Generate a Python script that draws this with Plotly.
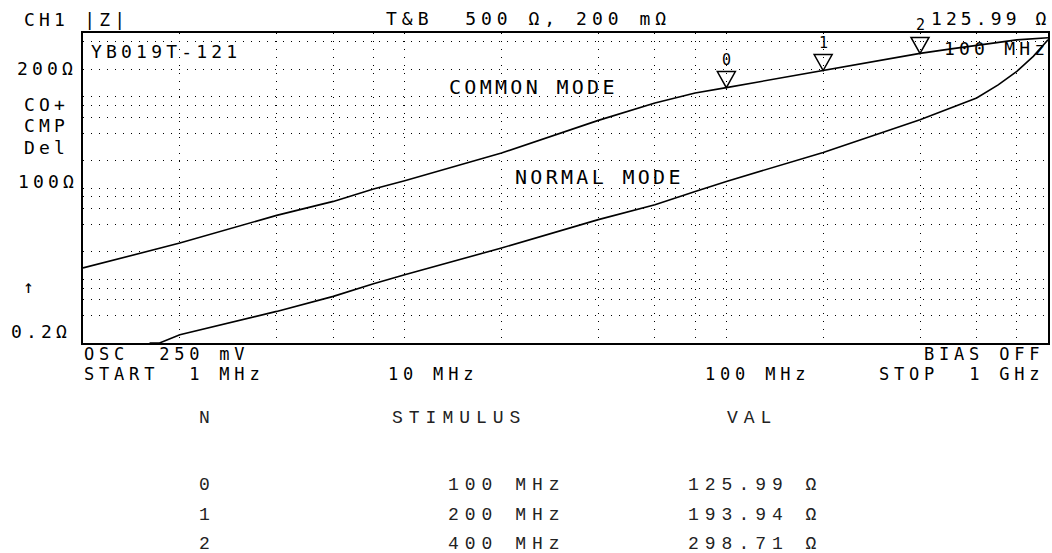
import plotly.graph_objects as go
import math

# ---------------- data ----------------
freq_common = [1, 2, 4, 6, 8, 10, 20, 40, 60, 80, 100, 200, 400, 500, 600, 700, 800, 1000]   # MHz
z_common = [1.33, 2.49, 5.01, 7.13, 9.75, 12.0, 24.2, 55.1, 85.5, 110, 125.99, 193.94, 298.71,
            335, 365, 395, 420, 444]                                                          # ohm

freq_normal = [1.61, 1.73, 2, 4, 6, 8, 10, 20, 40, 60, 80, 100, 200, 400, 600, 700, 800, 900, 1000]
z_normal = [0.2, 0.2, 0.247, 0.444, 0.649, 0.893, 1.12, 2.20, 4.50, 6.56, 9.18, 11.8, 24.5,
            56.1, 97, 135, 190, 277, 422]

marker_ids = ["0", "1", "2"]
marker_freq = [100, 200, 400]
marker_val = [125.99, 193.94, 298.71]
marker_stim_labels = ["100 MHz", "200 MHz", "400 MHz"]
marker_val_labels = ["125.99 Ω", "193.94 Ω", "298.71 Ω"]

x_grid = [2, 4, 6, 8, 10, 20, 40, 60, 80, 100, 200, 400, 600, 800]
y_grid = [0.4, 0.6, 0.8, 1, 2, 4, 6, 8, 10, 20, 40, 60, 80, 100, 200, 400]

x_min, x_max = 1, 1000      # MHz
y_min, y_max = 0.2, 500     # ohm

# ---------------- layout helpers ----------------
W, H = 1052, 553
L, R, T, B = 83, 1050, 33, 343


def px(x):
    return (x - L) / (R - L)


def py(y):
    return (B - y) / (B - T)


MONO = "DejaVu Sans Mono"
TABLE = "Liberation Mono"


def spaced(text, sp):
    return f'<span style="letter-spacing:{sp}px">{text}</span>'


annotations = []
shapes = []


def label(text, x, cy, size=18, sp=4.2, family=MONO, color="black", xanchor="left"):
    annotations.append(dict(
        text=spaced(text, sp), x=px(x), y=py(cy), xref="paper", yref="paper",
        xanchor=xanchor, yanchor="middle", showarrow=False, borderpad=0,
        font=dict(family=family, size=size, color=color)))


# header line
label("CH1 |Z|", 23, 20)
label("T&amp;B  500 Ω, 200 mΩ", 386, 18, sp=5)
label(marker_val_labels[0], 932, 18.5, sp=4.1)

# left side labels
label("200Ω", 16, 69)
label("CO+", 23, 104.5)
label("CMP", 23, 125.5)
label("Del", 23, 147.5)
label("100Ω", 17, 181)
label("↑", 28, 286, xanchor="center", sp=0)
label("0.2Ω", 10, 331)

# inside plot
label("YB019T-121", 90, 51.5)
label("COMMON MODE", 449, 86.5, size=20, sp=3.3)
label("NORMAL MODE", 515, 176.5, size=20, sp=3.3)
label(marker_stim_labels[0], 945, 48.5)

# under plot
label("OSC  250 mV", 83, 354, size=17, sp=4.8)
label("BIAS OFF", 925, 354, size=17, sp=4.8)
label("START  1 MHz", 83, 374, size=17, sp=4.8)
label("10 MHz", 388, 374, size=17, sp=4.8)
label("100 MHz", 705, 374, size=17, sp=4.8)
label("STOP  1 GHz", 880, 374, size=17, sp=4.8)

# marker table
label("N", 198, 418, size=18, sp=6, family=TABLE, color="#222")
label("STIMULUS", 392, 418, size=18, sp=6, family=TABLE, color="#222")
label("VAL", 727, 418, size=18, sp=6, family=TABLE, color="#222")
row_y = [485, 515, 544]
for i in range(len(marker_ids)):
    label(marker_ids[i], 198, row_y[i], size=18, sp=6, family=TABLE, color="#222")
    label(marker_stim_labels[i], 568, row_y[i], size=18, sp=6, family=TABLE, color="#222",
          xanchor="right")
    label(marker_val_labels[i], 688, row_y[i], size=18, sp=6, family=TABLE, color="#222")

# marker triangles (tip on the data point) and their numbers
for i in range(len(marker_ids)):
    shapes.append(dict(
        type="path", xref="x", yref="y", xsizemode="pixel", ysizemode="pixel",
        xanchor=marker_freq[i], yanchor=marker_val[i], path="M -9,16 L 9,16 L 0,0 Z",
        line=dict(color="black", width=1.5), fillcolor="rgba(0,0,0,0)", layer="above"))
    annotations.append(dict(
        text=marker_ids[i], x=math.log10(marker_freq[i]), y=math.log10(marker_val[i]),
        xref="x", yref="y", xanchor="center", yanchor="middle", yshift=28,
        showarrow=False, borderpad=0,
        font=dict(family=MONO, size=15, color="black")))

fig = go.Figure()
fig.add_trace(go.Scatter(x=freq_common, y=z_common, mode="lines",
                         line=dict(color="black", width=1.6), showlegend=False,
                         name="COMMON MODE"))
fig.add_trace(go.Scatter(x=freq_normal, y=z_normal, mode="lines",
                         line=dict(color="black", width=1.6), showlegend=False,
                         name="NORMAL MODE"))

grid_common = dict(showgrid=True, gridcolor="black", gridwidth=1.3, griddash="1px,7px",
                   showticklabels=False, ticks="", zeroline=False,
                   showline=True, mirror=True, linecolor="black", linewidth=2)

fig.update_xaxes(type="log", range=[math.log10(x_min), math.log10(x_max)],
                 tickvals=x_grid, **grid_common)
fig.update_yaxes(type="log", range=[math.log10(y_min), math.log10(y_max)],
                 tickvals=y_grid, **grid_common)

fig.update_layout(
    width=W, height=H,
    margin=dict(l=L, r=W - R, t=T, b=H - B, pad=0),
    paper_bgcolor="white", plot_bgcolor="white",
    annotations=annotations, shapes=shapes,
    showlegend=False,
)

fig.write_html("out.html", config={"displayModeBar": False},
               post_script="document.body.style.margin='0';document.body.style.overflow='hidden';")
